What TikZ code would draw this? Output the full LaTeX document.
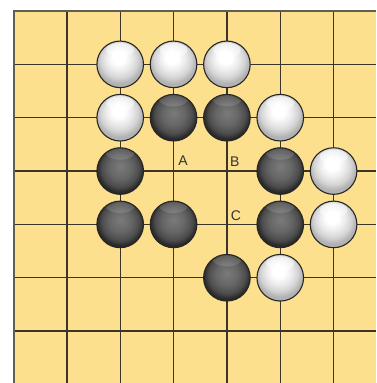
\documentclass[tikz,border=0pt]{standalone}
\usepackage{fontspec}
\setmainfont{Liberation Sans}
\definecolor{board}{HTML}{FCE08E}
\definecolor{gridc}{HTML}{3A342A}
\pgfdeclareradialshading{whitestone}{\pgfpoint{-2bp}{9bp}}{%
  color(0bp)=(white); color(7bp)=(white); color(14bp)=(black!8);
  color(20bp)=(black!17); color(25bp)=(black!30); color(50bp)=(black!30)}
\pgfdeclareradialshading{blackstone}{\pgfpoint{0bp}{5bp}}{%
  color(0bp)=(black!52); color(12bp)=(black!60); color(20bp)=(black!70);
  color(25bp)=(black!84); color(50bp)=(black!84)}
\tikzset{
  stone/.style={circle, minimum size=46.6pt, inner sep=0pt, draw=black!85, line width=1.1pt},
  wstone/.style={stone, shading=whitestone,
    path picture={\fill[white, opacity=0.5] ([yshift=-9pt]path picture bounding box.north) ellipse (14pt and 7pt);}},
  bstone/.style={stone, shading=blackstone,
    path picture={\fill[white, opacity=0.13] ([yshift=-4pt]path picture bounding box.north) ellipse (15pt and 8pt);}},
  gridline/.style={draw=gridc, line width=1.3pt},
  lbl/.style={font=\fontsize{14}{14}\selectfont, text=black!80, inner sep=0pt}
}
\begin{document}
\begin{tikzpicture}
\useasboundingbox (0pt,0pt) rectangle (376pt,383pt);
\fill[board] (13.5pt,0pt) rectangle (376pt,372pt);
\begin{scope}[shift={(13.5pt,372pt)}, x=53.35pt, y=-53.35pt]
  \foreach \i in {0,...,6} \draw[gridline] (\i,0) -- (\i,6.98);
  \foreach \j in {0,...,6} \draw[gridline] (0,\j) -- (6.8,\j);
  \draw[draw=gridc!80, line width=2pt] (0,6.98) -- (0,0) -- (6.8,0);
  % white stones
  \node[wstone] (w21) at (2,1) {};
  \node[wstone] (w31) at (3,1) {};
  \node[wstone] (w41) at (4,1) {};
  \node[wstone] (w22) at (2,2) {};
  \node[wstone] (w52) at (5,2) {};
  \node[wstone] (w63) at (6,3) {};
  \node[wstone] (w64) at (6,4) {};
  \node[wstone] (w55) at (5,5) {};
  % black stones
  \node[bstone] (b32) at (3,2) {};
  \node[bstone] (b42) at (4,2) {};
  \node[bstone] (b23) at (2,3) {};
  \node[bstone] (b53) at (5,3) {};
  \node[bstone] (b24) at (2,4) {};
  \node[bstone] (b34) at (3,4) {};
  \node[bstone] (b54) at (5,4) {};
  \node[bstone] (b45) at (4,5) {};
  % labels
  \node[lbl, xshift=9.5pt, yshift=10pt] (la) at (3,3) {A};
  \node[lbl, xshift=8pt, yshift=9pt] (lb) at (4,3) {B};
  \node[lbl, xshift=9pt, yshift=9pt] (lc) at (4,4) {C};
\end{scope}
\end{tikzpicture}
\end{document}
